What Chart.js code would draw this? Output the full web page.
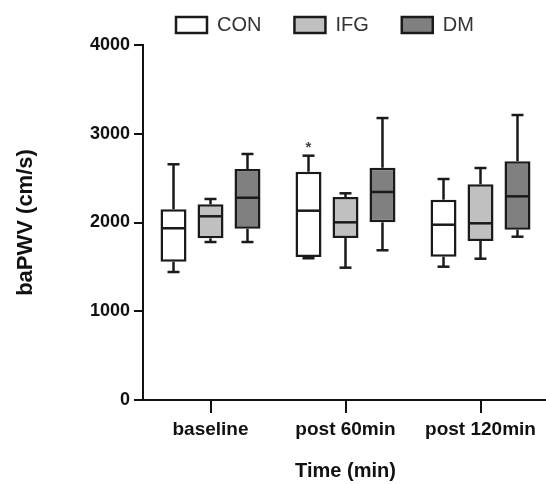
<!DOCTYPE html>
<html>
<head>
<meta charset="utf-8">
<script src="https://cdn.jsdelivr.net/npm/chart.js@4.4.0/dist/chart.umd.min.js"></script>
<style>
  html, body { margin: 0; padding: 0; background: #fff; overflow: hidden; }
  #wrap { width: 548px; height: 484px; }
</style>
</head>
<body>
<div id="wrap"><canvas id="bapwv" width="548" height="484"></canvas></div>
<script>
// ── data ─────────────────────────────────────────────────────────────
const categories = ['baseline', 'post 60min', 'post 120min'];
const groups     = ['CON', 'IFG', 'DM'];
const fills      = ['#ffffff', '#c0c0c0', '#808080'];
// [min, q1, median, q3, max] for each time point
const conStats = [[1442, 1558, 1935, 2149, 2656], [1597, 1611, 2133, 2572, 2753], [1502, 1615, 1975, 2257, 2490]];
const ifgStats = [[1780, 1822, 2070, 2205, 2265], [1491, 1825, 2002, 2287, 2329], [1592, 1792, 1991, 2430, 2614]];
const dmStats  = [[1780, 1930, 2279, 2603, 2772], [1687, 2002, 2344, 2617, 3177], [1840, 1919, 2295, 2690, 3211]];
const conMarks = ['', '*', ''];
const yMin = 0, yMax = 4000, yStep = 1000;

const FONT = "'Liberation Sans', Arial, Helvetica, sans-serif";
Chart.defaults.font.family = FONT;

// whiskers, medians and significance marks on top of the floating bars
const boxWhiskers = {
  id: 'boxWhiskers',
  afterDatasetsDraw(chart) {
    const { ctx } = chart;
    const y = chart.scales.y;
    const line = (x1, y1, x2, y2) => { ctx.beginPath(); ctx.moveTo(x1, y1); ctx.lineTo(x2, y2); ctx.stroke(); };
    ctx.save();
    ctx.strokeStyle = '#1a1a1a';
    ctx.lineWidth = 2.5;
    chart.data.datasets.forEach((ds, di) => {
      chart.getDatasetMeta(di).data.forEach((bar, i) => {
        const [mn, q1, md, q3, mx] = ds.stats[i];
        const half = bar.width / 2, cap = 6;
        const pMin = y.getPixelForValue(mn), pQ1 = y.getPixelForValue(q1);
        const pMd = y.getPixelForValue(md), pQ3 = y.getPixelForValue(q3), pMax = y.getPixelForValue(mx);
        line(bar.x - half + 1, pMd, bar.x + half - 1, pMd);
        line(bar.x, pQ3, bar.x, pMax);
        line(bar.x - cap, pMax, bar.x + cap, pMax);
        line(bar.x, pQ1, bar.x, pMin);
        line(bar.x - cap, pMin, bar.x + cap, pMin);
        if (ds.marks && ds.marks[i]) {
          ctx.fillStyle = '#444';
          ctx.font = `bold 15px ${FONT}`;
          ctx.textAlign = 'center';
          ctx.textBaseline = 'middle';
          ctx.fillText(ds.marks[i], bar.x, pMax - 8);
        }
      });
    });
    ctx.restore();
  }
};

const statsList = [conStats, ifgStats, dmStats];
const datasets = groups.map((g, k) => ({
  label: g,
  data: statsList[k].map(s => [s[1], s[3]]),
  stats: statsList[k],
  marks: k === 0 ? conMarks : null,
  backgroundColor: fills[k],
  borderColor: '#1a1a1a',
  borderWidth: 2.5,
  borderSkipped: false,
  categoryPercentage: 0.822,
  barPercentage: 0.703
}));

new Chart(document.getElementById('bapwv'), {
  type: 'bar',
  data: { labels: categories, datasets },
  options: {
    responsive: false,
    animation: false,
    layout: { padding: { top: -18, left: 0, right: 0, bottom: 0 } },
    plugins: {
      tooltip: { enabled: false },
      legend: {
        position: 'top',
        align: 'start',
        fullSize: false,
        labels: { boxWidth: 31, boxHeight: 16, padding: 33, color: '#333', font: { size: 20 } }
      }
    },
    scales: {
      x: {
        afterFit: s => { s.height = 84; },
        grid: { offset: false, drawOnChartArea: false, drawTicks: true, tickLength: 13, lineWidth: 2, color: '#111' },
        border: { display: true, width: 2, color: '#111' },
        ticks: { color: '#111', padding: 5, font: { size: 19, weight: 'bold' } },
        title: { display: true, text: 'Time (min)', color: '#111', padding: { top: 0, bottom: 1 }, font: { size: 20, weight: 'bold' } }
      },
      y: {
        min: yMin, max: yMax,
        afterFit: s => { s.width = 143; },
        grid: { drawOnChartArea: false, drawTicks: true, tickLength: 9, lineWidth: 2, color: '#111' },
        border: { display: true, width: 2, color: '#111' },
        ticks: { stepSize: yStep, color: '#111', padding: 4, font: { size: 18, weight: 'bold' }, callback: v => String(v) },
        title: { display: true, text: 'baPWV (cm/s)', color: '#111', padding: { top: 13, bottom: 0 }, font: { size: 22, weight: 'bold' } }
      }
    }
  },
  plugins: [boxWhiskers]
});
</script>
</body>
</html>
